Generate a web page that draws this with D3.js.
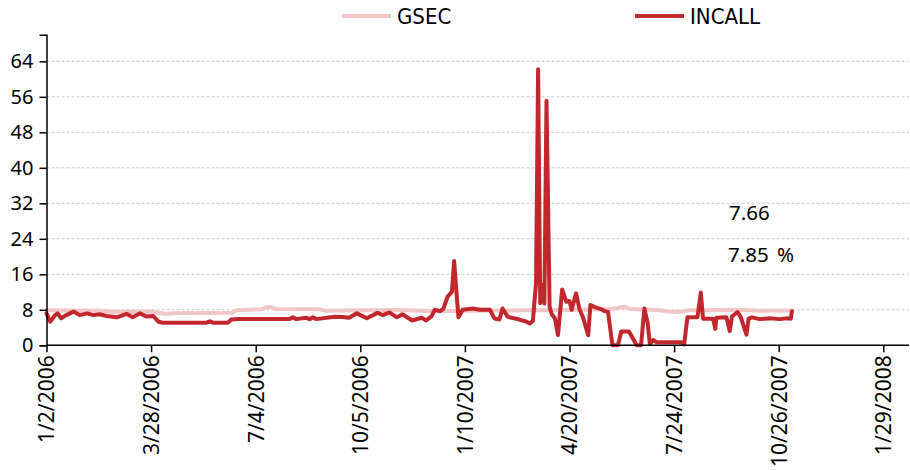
<!DOCTYPE html>
<html>
<head>
<meta charset="utf-8">
<script src="https://cdn.jsdelivr.net/npm/d3@7"></script>
<style>
  html, body { margin: 0; padding: 0; background: #ffffff; }
  svg { display: block; }
  .tick text { font-family: "Noto Sans", "DejaVu Sans", sans-serif; }
</style>
</head>
<body>
<svg id="chart" width="910" height="470"></svg>
<script>
// Axis labels (equally spaced trading-day markers)
const tickLabels = ["1/2/2006", "3/28/2006", "7/4/2006", "10/5/2006", "1/10/2007",
                    "4/20/2007", "7/24/2007", "10/26/2007", "1/29/2008"];
const yTicks = [0, 8, 16, 24, 32, 40, 48, 56, 64];

// Government securities yield (%)
const gsecDates = ["2006-01-02","2006-02-14","2006-02-24","2006-03-27","2006-04-10","2006-04-24",
  "2006-06-12","2006-06-16","2006-07-10","2006-07-13","2006-07-18","2006-07-22","2006-08-30",
  "2006-09-04","2006-10-05","2006-11-10","2006-11-29","2006-12-18","2007-01-14","2007-03-13",
  "2007-04-20","2007-05-26","2007-06-09","2007-06-14","2007-07-11","2007-07-18","2007-07-29",
  "2007-08-07","2007-09-21","2007-10-09","2007-11-07"];
const gsecValues = [7.9,7.8,7.55,7.6,7.1,7.3,7.35,7.9,8.1,8.6,8.6,8.2,8.1,7.8,7.9,7.95,7.8,7.7,
  7.8,7.9,7.95,8.1,8.7,8.2,7.9,7.6,7.5,7.9,8.0,7.8,7.85];

// Inter-bank call money rate (%)
const incallDates = ["2006-01-02","2006-01-05","2006-01-09","2006-01-11","2006-01-14","2006-01-18",
  "2006-01-24","2006-01-29","2006-02-04","2006-02-09","2006-02-14","2006-02-20","2006-02-28",
  "2006-03-08","2006-03-13","2006-03-19","2006-03-24","2006-03-30","2006-04-04","2006-04-08",
  "2006-05-19","2006-05-22","2006-05-25","2006-06-08","2006-06-11","2006-06-19","2006-08-03",
  "2006-08-06","2006-08-09","2006-08-18","2006-08-21","2006-08-24","2006-08-27","2006-09-12",
  "2006-09-19","2006-09-25","2006-10-02","2006-10-11","2006-10-21","2006-10-26","2006-11-01",
  "2006-11-08","2006-11-13","2006-11-22","2006-12-01","2006-12-05","2006-12-10","2006-12-13",
  "2006-12-18","2006-12-21","2006-12-25","2006-12-29","2006-12-31","2007-01-02","2007-01-04",
  "2007-01-08","2007-01-18","2007-01-24","2007-02-03","2007-02-07","2007-02-12","2007-02-15",
  "2007-02-20","2007-02-28","2007-03-10","2007-03-13","2007-03-16","2007-03-19","2007-03-21",
  "2007-03-23","2007-03-25","2007-03-27","2007-03-29","2007-04-01","2007-04-03","2007-04-06",
  "2007-04-09","2007-04-13","2007-04-17","2007-04-20","2007-04-22","2007-04-26","2007-04-29",
  "2007-05-02","2007-05-07","2007-05-09","2007-05-13","2007-05-19","2007-05-22","2007-05-25",
  "2007-05-29","2007-06-03","2007-06-06","2007-06-13","2007-06-20","2007-06-24","2007-06-27",
  "2007-06-30","2007-07-02","2007-07-05","2007-07-08","2007-07-30","2007-08-02","2007-08-05",
  "2007-08-14","2007-08-17","2007-08-19","2007-08-28","2007-08-30","2007-08-31","2007-09-09",
  "2007-09-12","2007-09-14","2007-09-19","2007-09-22","2007-09-27","2007-09-29","2007-10-02",
  "2007-10-09","2007-10-18","2007-10-27","2007-11-03","2007-11-06","2007-11-07"];
const incallValues = [7.2,5.3,6.8,7.2,6.1,6.8,7.6,6.8,7.2,6.8,7.0,6.6,6.3,7.1,6.3,7.2,6.5,6.6,
  5.3,5.1,5.1,5.4,5.1,5.1,5.8,5.9,5.9,6.3,5.9,6.2,5.9,6.3,5.9,6.45,6.4,6.2,7.2,6.1,7.3,6.8,7.4,
  6.3,7.0,5.6,6.2,5.6,6.5,8.0,7.7,8.2,11.0,12.1,19.0,12.5,6.3,8.0,8.3,8.0,8.0,6.1,5.8,8.3,6.4,
  6.0,5.3,4.9,5.5,14.0,62.2,9.5,13.6,9.4,55.1,8.7,7.0,6.1,2.3,12.6,9.8,10.0,8.0,11.7,8.2,6.45,
  2.3,9.1,8.6,8.1,7.7,7.5,0.0,0.0,3.1,3.1,0.0,0.0,8.3,5.0,0.3,1.2,0.7,0.7,0.2,6.3,6.3,11.9,6.0,
  6.0,3.7,6.2,6.3,3.2,6.5,7.5,6.3,2.4,6.0,6.3,5.9,6.1,5.9,6.1,6.0,7.66];

const seriesNames = ["GSEC", "INCALL"];
const seriesColors = ["#f2c6c6", "#c1272d"];

const W = 910, H = 470;
const margin = { left: 46.5, right: 1, top: 34.7, bottom: 124.7 };

const parseTick = d3.timeParse("%m/%d/%Y");
const parseIso = d3.timeParse("%Y-%m-%d");
const tickDates = tickLabels.map(parseTick);

// Category-style date axis: labelled dates sit at equal spacing
const step = 104.6;
const x = d3.scaleTime()
  .domain(tickDates)
  .range(tickDates.map((d, i) => margin.left + i * step));

const y = d3.scaleLinear().domain([0, 70]).range([H - margin.bottom, margin.top]);

const svg = d3.select("#chart");
svg.append("rect").attr("width", W).attr("height", H).attr("fill", "#ffffff");

const plotRight = W - margin.right;

// Horizontal dashed gridlines
svg.append("g")
  .selectAll("line")
  .data(yTicks.filter(v => v > 0))
  .join("line")
  .attr("x1", margin.left).attr("x2", plotRight)
  .attr("y1", d => y(d)).attr("y2", d => y(d))
  .attr("stroke", "#c8c8c8").attr("stroke-width", 1)
  .attr("stroke-dasharray", "3,2");

// Series lines
const gsec = gsecDates.map((d, i) => ({ date: parseIso(d), value: gsecValues[i] }));
const incall = incallDates.map((d, i) => ({ date: parseIso(d), value: incallValues[i] }));

const line = d3.line().x(d => x(d.date)).y(d => y(d.value));

svg.append("path").datum(gsec)
  .attr("d", line).attr("fill", "none")
  .attr("stroke", seriesColors[0]).attr("stroke-width", 4)
  .attr("stroke-linejoin", "round").attr("stroke-linecap", "round");

svg.append("path").datum(incall)
  .attr("d", line).attr("fill", "none")
  .attr("stroke", seriesColors[1]).attr("stroke-width", 4)
  .attr("stroke-linejoin", "round").attr("stroke-linecap", "round");

// Y axis
const yAxis = svg.append("g")
  .attr("transform", `translate(${margin.left},0)`)
  .call(d3.axisLeft(y).tickValues(yTicks).tickSize(7).tickPadding(6).tickFormat(d3.format("d")));
yAxis.select(".domain").attr("stroke", "#000").attr("stroke-width", 1.5);
yAxis.selectAll(".tick line").attr("stroke", "#000").attr("stroke-width", 1.5);
yAxis.selectAll(".tick text").attr("font-size", 20).attr("fill", "#000");

// X axis
const xAxis = svg.append("g")
  .attr("transform", `translate(0,${y(0)})`)
  .call(d3.axisBottom(x).tickValues(tickDates).tickSize(7).tickSizeOuter(0)
        .tickFormat((d, i) => tickLabels[i]));
xAxis.select(".domain").remove();
xAxis.append("line")
  .attr("x1", margin.left).attr("x2", plotRight)
  .attr("stroke", "#000").attr("stroke-width", 1.5);
xAxis.selectAll(".tick line").attr("stroke", "#000").attr("stroke-width", 1.5);
xAxis.selectAll(".tick text")
  .attr("font-size", 21).attr("fill", "#000")
  .attr("transform", "rotate(-90)")
  .attr("text-anchor", "end")
  .attr("x", -10).attr("y", 0).attr("dy", "0.35em");

// Legend
const legend = svg.append("g").attr("font-family", "'Liberation Sans Narrow', 'DejaVu Sans Condensed', sans-serif");
const legendX = [342, 635];
seriesNames.forEach((name, i) => {
  legend.append("line")
    .attr("x1", legendX[i]).attr("x2", legendX[i] + 49)
    .attr("y1", 16).attr("y2", 16)
    .attr("stroke", seriesColors[i]).attr("stroke-width", 4);
  legend.append("text")
    .attr("x", legendX[i] + 55).attr("y", 24)
    .attr("font-size", 22).attr("fill", "#000")
    .text(name);
});

// Latest readings
const fmt = d3.format(".2f");
svg.append("text")
  .attr("x", 729).attr("y", 220)
  .attr("font-family", "'Noto Sans', sans-serif").attr("font-size", 20.5)
  .text(fmt(incallValues[incallValues.length - 1]));
svg.append("text")
  .attr("x", 728).attr("y", 262)
  .attr("font-family", "'Noto Sans', sans-serif").attr("font-size", 20.5)
  .attr("word-spacing", 3)
  .text(fmt(gsecValues[gsecValues.length - 1]) + " %");
</script>
</body>
</html>
